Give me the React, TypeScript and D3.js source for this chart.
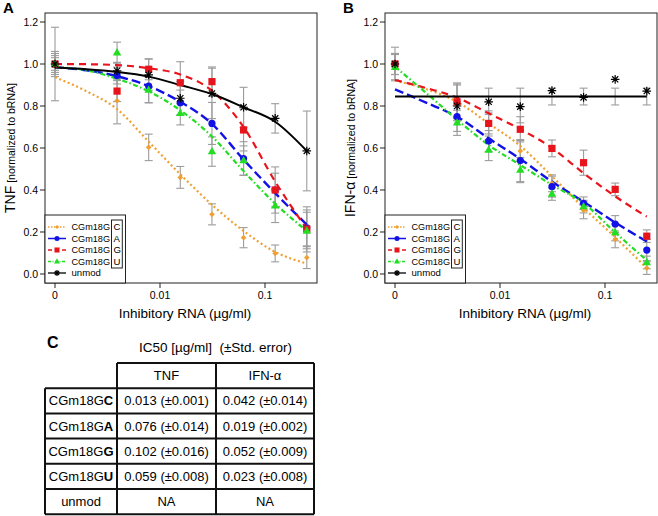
import React from 'react';
import * as d3 from 'd3';

// ---------------- data ----------------
const doses = [0, 0.0039, 0.0078, 0.0156, 0.03125, 0.0625, 0.125, 0.25];
const fitDoses = [0, 0.002, 0.0039, 0.0078, 0.0156, 0.03125, 0.0625, 0.125, 0.25];
const ZERO_AT = 0.001; // "0" dose is drawn at this log position
const xTickValues = [0, 0.01, 0.1];
const xTickLabels = ['0', '0.01', '0.1'];
const yTickValues = [0, 0.2, 0.4, 0.6, 0.8, 1.0, 1.2];
const seriesKeys = ['C', 'A', 'G', 'U', 'unmod'];
const legendPrefix = 'CGm18G';

// Panel A: TNF
const tnfC = [1.0, 0.825, 0.603, 0.46, 0.284, 0.173, 0.098, 0.078];
const tnfA = [1.0, 0.945, 0.895, 0.816, 0.717, 0.55, 0.4, 0.22];
const tnfG = [1.0, 0.871, 0.975, 0.911, 0.916, 0.686, 0.4, 0.214];
const tnfU = [1.0, 1.054, 0.876, 0.765, 0.583, 0.54, 0.325, 0.205];
const tnfUnmod = [1.0, 0.968, 0.948, 0.837, 0.86, 0.794, 0.741, 0.586];

const tnfErrC = [0.03, 0.11, 0.063, 0.052, 0.05, 0.048, 0.04, 0.052];
const tnfErrA = [0.04, 0.04, 0.08, 0.06, 0.1, 0.08, 0.08, 0.1];
const tnfErrG = [0.06, 0.05, 0.05, 0.1, 0.07, 0.1, 0.11, 0.08];
const tnfErrU = [0.05, 0.05, 0.06, 0.055, 0.07, 0.07, 0.08, 0.1];
const tnfErrUnmod = [0.175, 0.04, 0.075, 0.08, 0.12, 0.095, 0.07, 0.19];

const tnfFitC = [0.937, 0.87, 0.785, 0.63, 0.475, 0.33, 0.205, 0.105, 0.05];
const tnfFitA = [0.985, 0.97, 0.942, 0.895, 0.82, 0.715, 0.545, 0.385, 0.235];
const tnfFitG = [1.0, 0.999, 0.995, 0.98, 0.95, 0.873, 0.7, 0.44, 0.215];
const tnfFitU = [0.985, 0.97, 0.93, 0.87, 0.78, 0.655, 0.49, 0.335, 0.205];
const tnfFitUnmod = [0.983, 0.975, 0.962, 0.94, 0.9, 0.857, 0.794, 0.725, 0.586];

// Panel B: IFN-α
const ifnC = [1.0, 0.82, 0.717, 0.586, 0.432, 0.303, 0.165, 0.028];
const ifnA = [1.0, 0.749, 0.633, 0.54, 0.416, 0.337, 0.238, 0.114];
const ifnG = [1.0, 0.82, 0.717, 0.689, 0.598, 0.53, 0.403, 0.18];
const ifnU = [0.985, 0.72, 0.59, 0.495, 0.381, 0.321, 0.198, 0.055];
const ifnUnmod = [1.0, 0.8, 0.82, 0.797, 0.873, 0.841, 0.927, 0.871];

const ifnErrC = [0.05, 0.09, 0.05, 0.05, 0.04, 0.04, 0.04, 0.03];
const ifnErrA = [0.05, 0.07, 0.05, 0.1, 0.05, 0.03, 0.04, 0.05];
const ifnErrG = [0.05, 0.08, 0.06, 0.06, 0.04, 0.06, 0.03, 0.03];
const ifnErrU = [0.06, 0.06, 0.05, 0.06, 0.03, 0.03, 0.04, 0.03];
const ifnUnmodLo = [0.92, 0.74, 0.76, 0.72, 0.805, 0.805, 0.805, 0.805];
const ifnUnmodHi = [1.08, 0.905, 0.885, 0.885, 0.885, 0.885, 0.885, 0.885];

const ifnFitC = [0.921, 0.88, 0.82, 0.717, 0.61, 0.465, 0.315, 0.175, 0.028];
const ifnFitA = [0.879, 0.815, 0.749, 0.646, 0.548, 0.44, 0.344, 0.245, 0.155];
const ifnFitG = [0.924, 0.885, 0.84, 0.765, 0.69, 0.6, 0.48, 0.37, 0.273];
const ifnFitU = [0.987, 0.86, 0.735, 0.614, 0.519, 0.424, 0.337, 0.198, 0.065];
const ifnFitUnmod = [0.845, 0.845, 0.845, 0.845, 0.845, 0.845, 0.845, 0.845, 0.845];

// Table C
const tableTitle = 'IC50 [µg/ml]\u00a0\u00a0(±Std. error)';
const tableColumns = ['TNF', 'IFN-α'];
const tableRowLetters = ['C', 'A', 'G', 'U'];
const tableTnf = ['0.013 (±0.001)', '0.076 (±0.014)', '0.102 (±0.016)', '0.059 (±0.008)', 'NA'];
const tableIfn = ['0.042 (±0.014)', '0.019 (±0.002)', '0.052 (±0.009)', '0.023 (±0.008)', 'NA'];

// ---------------- styles ----------------
const FONT = 'Liberation Sans, Arial, Helvetica, sans-serif';
const COLORS: Record<string, string> = {
  C: '#F0A030',
  A: '#1212E6',
  G: '#E8141C',
  U: '#22DD22',
  unmod: '#000000',
};
const DASH: Record<string, string | undefined> = {
  C: '2,2.6',
  A: '9,4',
  G: '7,5',
  U: '5,2.5,1.5,2.5',
  unmod: undefined,
};
const LEG_DASH: Record<string, string | undefined> = {
  C: '1.5,1.5',
  A: undefined,
  G: '4,3',
  U: '3,1.5,1,1.5',
  unmod: undefined,
};
const LINE_W: Record<string, number> = { C: 2.2, A: 2.4, G: 2.2, U: 2.2, unmod: 2 };

const PLOT = { left: 45, right: 317, top: 13, bottom: 283 };
const X_DOMAIN: [number, number] = [0.000803, 0.3128];
const Y_DOMAIN: [number, number] = [-0.0429, 1.2429];

function Marker({ k, cx, cy, s = 1 }: { k: string; cx: number; cy: number; s?: number }) {
  const c = COLORS[k];
  if (k === 'C') {
    const r = 2.8 * s;
    return <path d={`M${cx},${cy - r}L${cx + r},${cy}L${cx},${cy + r}L${cx - r},${cy}Z`} fill={c} />;
  }
  if (k === 'A') return <circle cx={cx} cy={cy} r={3.6 * s} fill={c} />;
  if (k === 'G') {
    const h = 3.6 * s;
    return <rect x={cx - h} y={cy - h} width={2 * h} height={2 * h} fill={c} />;
  }
  if (k === 'U') {
    const a = 4.2 * s;
    return <path d={`M${cx},${cy - a * 1.1}L${cx + a},${cy + a * 0.65}L${cx - a},${cy + a * 0.65}Z`} fill={c} />;
  }
  const r = 4.3 * s;
  const q = r * 0.72;
  return (
    <path
      d={`M${cx - r},${cy}L${cx + r},${cy}M${cx},${cy - r}L${cx},${cy + r}M${cx - q},${cy - q}L${cx + q},${cy + q}M${cx - q},${cy + q}L${cx + q},${cy - q}`}
      stroke={c}
      strokeWidth={1.2}
      fill="none"
    />
  );
}

type PanelProps = {
  dx: number;
  letter: string;
  yMain: string;
  ySub: string;
  pts: number[][];
  lo: number[][];
  hi: number[][];
  fits: number[][];
};

function Panel({ dx, letter, yMain, ySub, pts, lo, hi, fits }: PanelProps) {
  const left = PLOT.left + dx;
  const right = PLOT.right + dx;
  const x = d3.scaleLog().domain(X_DOMAIN).range([left, right]);
  const y = d3.scaleLinear().domain(Y_DOMAIN).range([PLOT.bottom, PLOT.top]);
  const px = (d: number) => x(d === 0 ? ZERO_AT : d);
  const line = d3
    .line<number>()
    .x((_, i) => px(fitDoses[i]))
    .y((v) => y(v))
    .curve(d3.curveMonotoneX);
  const midY = (PLOT.top + PLOT.bottom) / 2;
  const legTop = 215;
  const legRight = left + 80.5;

  return (
    <g fontFamily={FONT}>
      <text x={dx + 3} y={13} fontSize={15} fontWeight="bold">
        {letter}
      </text>
      {/* error bars */}
      {seriesKeys.map((k, si) =>
        doses.map((d, i) => {
          const xx = px(d);
          const y1 = y(lo[si][i]);
          const y2 = y(hi[si][i]);
          return (
            <g key={`e${k}${i}`} stroke="#9c9c9c" strokeWidth={1.1}>
              <line x1={xx} x2={xx} y1={y1} y2={y2} />
              <line x1={xx - 4} x2={xx + 4} y1={y1} y2={y1} />
              <line x1={xx - 4} x2={xx + 4} y1={y2} y2={y2} />
            </g>
          );
        })
      )}
      {/* fitted curves */}
      {seriesKeys.map((k, si) => (
        <path
          key={`f${k}`}
          d={line(fits[si]) || ''}
          fill="none"
          stroke={COLORS[k]}
          strokeWidth={LINE_W[k]}
          strokeDasharray={DASH[k]}
        />
      ))}
      {/* points */}
      {seriesKeys.map((k, si) =>
        doses.map((d, i) => <Marker key={`p${k}${i}`} k={k} cx={px(d)} cy={y(pts[si][i])} />)
      )}
      {/* frame */}
      <rect x={left} y={PLOT.top} width={right - left} height={PLOT.bottom - PLOT.top} fill="none" stroke="#222" strokeWidth={1} />
      {/* y axis */}
      {yTickValues.map((v) => (
        <g key={`yt${v}`}>
          <line x1={left - 5} x2={left} y1={y(v)} y2={y(v)} stroke="#222" />
          <text x={left - 7} y={y(v)} dy="0.35em" textAnchor="end" fontSize={10.5}>
            {v.toFixed(1)}
          </text>
        </g>
      ))}
      {/* x axis */}
      {xTickValues.map((v, i) => (
        <g key={`xt${v}`}>
          <line x1={px(v)} x2={px(v)} y1={PLOT.bottom} y2={PLOT.bottom + 5} stroke="#222" />
          <text x={px(v)} y={PLOT.bottom + 16} textAnchor="middle" fontSize={10.5}>
            {xTickLabels[i]}
          </text>
        </g>
      ))}
      <text x={(left + right) / 2 + 4} y={318} textAnchor="middle" fontSize={13.5}>
        Inhibitory RNA (µg/ml)
      </text>
      <text transform={`translate(${dx + 15},${midY}) rotate(-90)`} textAnchor="middle">
        <tspan fontSize={14}>{yMain}</tspan>
        <tspan fontSize={10.5}>{' ' + ySub}</tspan>
      </text>
      {/* legend */}
      <rect x={left} y={legTop} width={legRight - left} height={PLOT.bottom - legTop} fill="white" stroke="#222" strokeWidth={1} />
      {seriesKeys.map((k, i) => {
        const ly = legTop + 12 + i * 11.5;
        return (
          <g key={`l${k}`}>
            <line
              x1={left + 3}
              x2={left + 21}
              y1={ly}
              y2={ly}
              stroke={COLORS[k]}
              strokeWidth={k === 'unmod' ? 1.3 : 1.5}
              strokeDasharray={LEG_DASH[k]}
            />
            <Marker k={k} cx={left + 12} cy={ly} s={0.7} />
            {k === 'unmod' ? (
              <text x={left + 26.5} y={ly} dy="0.35em" fontSize={9.6}>
                unmod
              </text>
            ) : (
              <text x={left + 26.5} y={ly} dy="0.35em" fontSize={9.6}>
                <tspan textLength={38.5} lengthAdjust="spacingAndGlyphs">
                  {legendPrefix}
                </tspan>
                <tspan x={left + 68.5}>{k}</tspan>
              </text>
            )}
          </g>
        );
      })}
      <rect x={left + 66.5} y={legTop + 5} width={10.8} height={48} fill="none" stroke="#222" strokeWidth={1} />
    </g>
  );
}

function Table() {
  const cols = [45, 117, 216, 314];
  const rowTop = 363;
  const rowH = 25.2;
  const rows = tableRowLetters.length + 1;
  const rowY = (i: number) => rowTop + rowH * (i + 1);
  const lines: JSX.Element[] = [];
  lines.push(<line key="ht" x1={cols[1]} x2={cols[3]} y1={rowTop} y2={rowTop} />);
  lines.push(<line key="hl1" x1={cols[1]} x2={cols[1]} y1={rowTop} y2={rowY(rows)} />);
  lines.push(<line key="hl2" x1={cols[2]} x2={cols[2]} y1={rowTop} y2={rowY(rows)} />);
  lines.push(<line key="hl3" x1={cols[3]} x2={cols[3]} y1={rowTop} y2={rowY(rows)} />);
  lines.push(<line key="l0" x1={cols[0]} x2={cols[0]} y1={rowY(0)} y2={rowY(rows)} />);
  for (let r = 0; r <= rows; r++) {
    lines.push(<line key={`r${r}`} x1={cols[0]} x2={cols[3]} y1={rowY(r)} y2={rowY(r)} />);
  }
  const c1 = (cols[0] + cols[1]) / 2;
  const c2 = (cols[1] + cols[2]) / 2;
  const c3 = (cols[2] + cols[3]) / 2;
  return (
    <g fontFamily={FONT}>
      <text x={47} y={348} fontSize={16} fontWeight="bold">
        C
      </text>
      <text x={(cols[1] + cols[3]) / 2} y={352} fontSize={13.5} textAnchor="middle">
        {tableTitle}
      </text>
      <g stroke="#111" strokeWidth={2}>{lines}</g>
      <text x={c2} y={rowTop + rowH / 2} dy="0.36em" fontSize={13} textAnchor="middle">
        {tableColumns[0]}
      </text>
      <text x={c3} y={rowTop + rowH / 2} dy="0.36em" fontSize={13} textAnchor="middle">
        {tableColumns[1]}
      </text>
      {tableTnf.map((v, i) => {
        const cy = rowY(i) + rowH / 2;
        return (
          <g key={`row${i}`} fontSize={13}>
            <text x={c1} y={cy} dy="0.36em" textAnchor="middle">
              {i < tableRowLetters.length ? (
                <>
                  {legendPrefix}
                  <tspan fontWeight="bold">{tableRowLetters[i]}</tspan>
                </>
              ) : (
                'unmod'
              )}
            </text>
            <text x={c2} y={cy} dy="0.36em" textAnchor="middle">
              {v}
            </text>
            <text x={c3} y={cy} dy="0.36em" textAnchor="middle">
              {tableIfn[i]}
            </text>
          </g>
        );
      })}
    </g>
  );
}

export default function App() {
  const tnfPts = [tnfC, tnfA, tnfG, tnfU, tnfUnmod];
  const tnfErr = [tnfErrC, tnfErrA, tnfErrG, tnfErrU, tnfErrUnmod];
  const tnfLo = tnfPts.map((s, si) => s.map((v, i) => v - tnfErr[si][i]));
  const tnfHi = tnfPts.map((s, si) => s.map((v, i) => v + tnfErr[si][i]));
  const tnfFits = [tnfFitC, tnfFitA, tnfFitG, tnfFitU, tnfFitUnmod];

  const ifnPts = [ifnC, ifnA, ifnG, ifnU, ifnUnmod];
  const ifnErr = [ifnErrC, ifnErrA, ifnErrG, ifnErrU];
  const ifnLo = [...ifnErr.map((e, si) => ifnPts[si].map((v, i) => v - e[i])), ifnUnmodLo];
  const ifnHi = [...ifnErr.map((e, si) => ifnPts[si].map((v, i) => v + e[i])), ifnUnmodHi];
  const ifnFits = [ifnFitC, ifnFitA, ifnFitG, ifnFitU, ifnFitUnmod];

  return (
    <svg width={658} height={516} style={{ position: 'absolute', left: 0, top: 0, background: 'white' }}>
      <rect width={658} height={516} fill="white" />
      <Panel dx={0} letter="A" yMain="TNF" ySub="[normalized to bRNA]" pts={tnfPts} lo={tnfLo} hi={tnfHi} fits={tnfFits} />
      <Panel dx={340} letter="B" yMain="IFN-α" ySub="[normalized to bRNA]" pts={ifnPts} lo={ifnLo} hi={ifnHi} fits={ifnFits} />
      <Table />
    </svg>
  );
}
